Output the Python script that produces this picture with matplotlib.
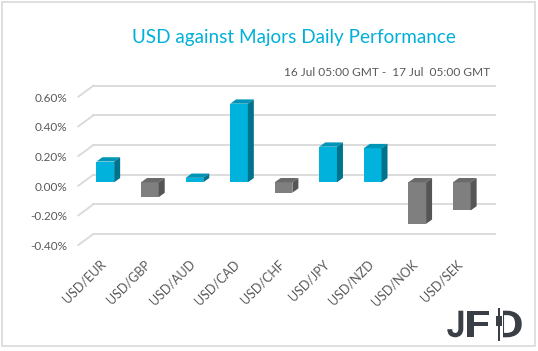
import numpy as np
import matplotlib.pyplot as plt
from matplotlib.patches import Polygon, Rectangle, PathPatch
from matplotlib.textpath import TextPath
from matplotlib.font_manager import FontProperties
from matplotlib.transforms import Affine2D, IdentityTransform

plt.rcParams['font.family'] = ['Lato', 'DejaVu Sans']

# data (percent)
PAIRS = ['USD/EUR', 'USD/GBP', 'USD/AUD', 'USD/CAD', 'USD/CHF',
         'USD/JPY', 'USD/NZD', 'USD/NOK', 'USD/SEK']
CHANGE = [0.14, -0.10, 0.03, 0.53, -0.07, 0.24, 0.23, -0.28, -0.19]
YTICKS = [-0.4, -0.2, 0.0, 0.2, 0.4, 0.6]
YTICK_LABELS = ['-0.40%', '-0.20%', '0.00%', '0.20%', '0.40%', '0.60%']

TITLE = 'USD against Majors Daily Performance'
SUBTITLE = '16 Jul 05:00 GMT -  17 Jul  05:00 GMT'

# colours: (front, top, side)
POS = ('#00B2DC', '#0094B6', '#00738C')
NEG = ('#7F7F7F', '#6A6A6A', '#555555')
GRID = '#D9D9D9'
LOGO = '#3A3F46'

W, H = 538, 351
fig = plt.figure(figsize=(W / 100, H / 100), dpi=100)

# pixel geometry of the plot (measured from reference)
X0, DX = 105.3, 44.56      # first bar centre, spacing (px)
Y0, DY = 182.3, 148.3      # zero baseline, px per 1 %
PL, PR, PT, PB = 60, 500, 75, 255
ax = fig.add_axes([PL / W, (H - PB) / H, (PR - PL) / W, (PB - PT) / H])
ax.set_xlim((PL - X0) / DX, (PR - X0) / DX)
ax.set_ylim((Y0 - PB) / DY, (Y0 - PT) / DY)
ax.axis('off')

def px_x(p):
    return (p - X0) / DX

# back gridlines with floor diagonal
gx0, gx1, dgx = px_x(93.3), px_x(495), px_x(78.3)
for v, lab in zip(YTICKS, YTICK_LABELS):
    ax.plot([gx0, gx1], [v + 0.051, v + 0.051], color=GRID, lw=1.3, zorder=1)
    ax.plot([dgx, gx0], [v - 0.023, v + 0.051], color=GRID, lw=1.3, zorder=1)
    ax.text(px_x(67.5), v - 0.032, lab, ha='right', va='center',
            fontsize=8.5, color='#595959')

# 3d-ish bars
bw = 17.7 / DX
ddx, ddy = 6 / DX, 4.3 / DY
for i, v in enumerate(CHANGE):
    front, top, side = POS if v >= 0 else NEG
    xl, xr = i - bw / 2, i + bw / 2
    lo, hi = min(v, 0), max(v, 0)
    ax.add_patch(Rectangle((xl, lo), bw, hi - lo, facecolor=front,
                           edgecolor='none', zorder=3))
    ax.add_patch(Polygon([(xl, hi), (xr, hi), (xr + ddx, hi + ddy), (xl + ddx, hi + ddy)],
                         closed=True, facecolor=top, edgecolor='none', zorder=3))
    ax.add_patch(Polygon([(xr, lo), (xr, hi), (xr + ddx, hi + ddy), (xr + ddx, lo + ddy)],
                         closed=True, facecolor=side, edgecolor='none', zorder=3))
    ax.text(i - 0.03, (Y0 - 262) / DY, PAIRS[i], rotation=45, rotation_mode='anchor',
            ha='right', va='center', fontsize=9, color='#595959')

# titles
fig.text(293.8 / W, 1 - 38 / H, TITLE, ha='center', va='center',
         fontsize=13.6, color='#00B0DA')
fig.text(490 / W, 1 - 73 / H, SUBTITLE, ha='right', va='center',
         fontsize=8.6, color='#595959')

# logo, drawn in pixel coords (y from top)
def fit_text(s, x0, x1, ytop, ybot, **kw):
    tp = TextPath((0, 0), s, size=40, prop=FontProperties(family='Roboto', weight='bold'))
    ext = tp.get_extents()
    sx = (x1 - x0) / ext.width
    sy = (ybot - ytop) / ext.height
    tr = (Affine2D().translate(-ext.x0, -ext.y0).scale(sx, sy)
          .translate(x0, H - ybot) + IdentityTransform())
    fig.patches.append(PathPatch(tp, transform=tr, facecolor=LOGO, edgecolor='none', **kw))

def px_rect(x0, x1, ytop, ybot, color, z=2):
    fig.patches.append(Rectangle((x0, H - ybot), x1 - x0, ybot - ytop,
                                 transform=IdentityTransform(), facecolor=color,
                                 edgecolor='none', zorder=z))

fit_text('J', 447.3, 463.3, 310.7, 337.3)
fit_text('F', 467.3, 489.3, 310.7, 337.3)
fit_text('D', 497.5, 521.7, 310.7, 337.3)
px_rect(496.5, 502.7, 309, 339, 'white', z=3)
px_rect(498.0, 499.8, 308, 340.7, LOGO, z=4)
px_rect(495.7, 501.7, 316.3, 326.3, LOGO, z=4)

# border
fig.patches.append(Rectangle((2 / W, 5 / H), 533 / W, 344 / H, transform=fig.transFigure,
                             fill=False, edgecolor='#D9D9D9', lw=1.2))

fig.savefig('out.png', dpi=100)
